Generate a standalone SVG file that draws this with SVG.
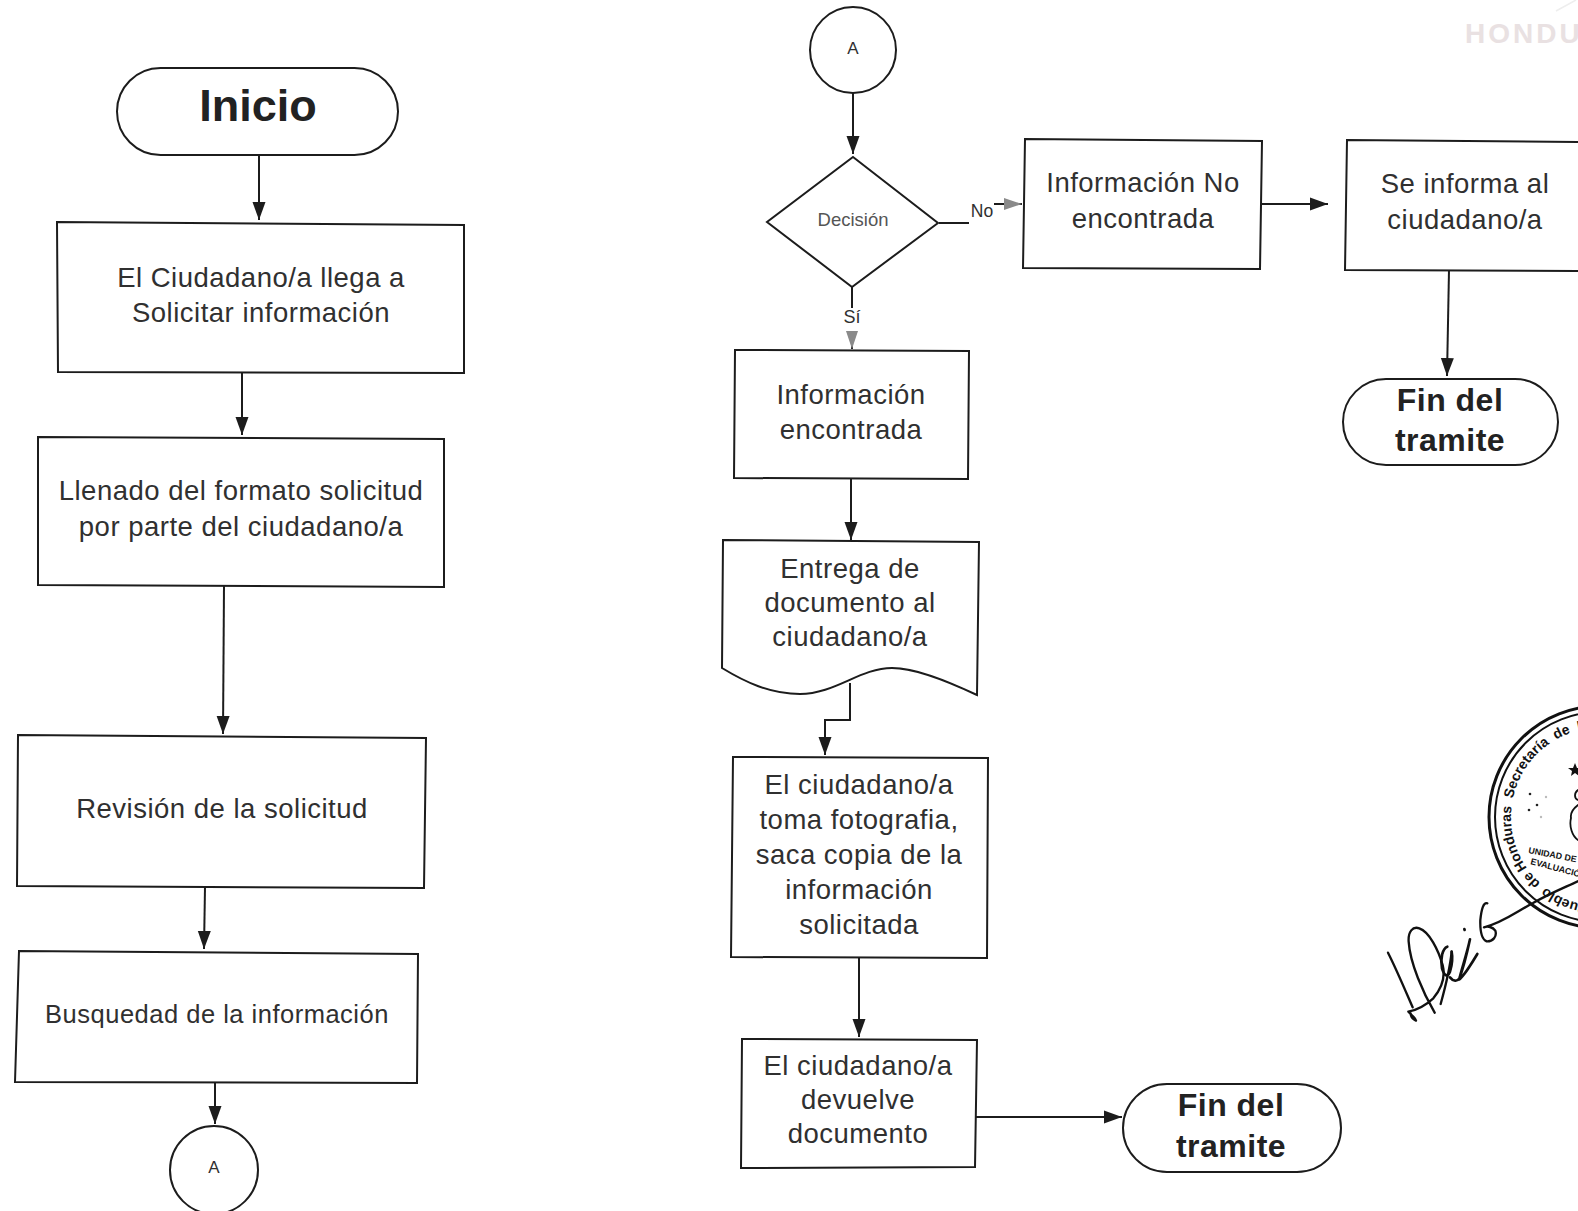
<svg xmlns="http://www.w3.org/2000/svg" width="1578" height="1211" viewBox="0 0 1578 1211">
<style>
.s{fill:#fff;stroke:#1c1c1c;stroke-width:2}
.c{fill:none;stroke:#1c1c1c;stroke-width:2}
text{font-family:"Liberation Sans",Arial,sans-serif;fill:#303030;text-anchor:middle}
.t{font-size:27.5px;letter-spacing:.5px}
.b{font-size:32px;font-weight:bold;fill:#222;letter-spacing:.5px}
.sm{font-size:17px}
.st{font-size:14px;font-weight:bold;fill:#111;text-anchor:start}
.ink{fill:none;stroke:#111;stroke-linecap:round;stroke-linejoin:round}
</style>
<defs>
<marker id="ar" markerUnits="userSpaceOnUse" markerWidth="18" markerHeight="14" refX="18" refY="7" orient="auto"><path d="M0,0.5L18,7L0,13.5z" fill="#1c1c1c"/></marker>
<marker id="ag" markerUnits="userSpaceOnUse" markerWidth="18" markerHeight="14" refX="18" refY="7" orient="auto"><path d="M0,1L18,7L0,13z" fill="#8a8a8a"/></marker>
<path id="ring" d="M1600,906A89,89 0 1 1 1600,728"/>
</defs>
<rect width="1578" height="1211" fill="#fff"/>
<g id="connectors">
<path class="c" d="M259,155V220" marker-end="url(#ar)"/>
<path class="c" d="M242,372V435" marker-end="url(#ar)"/>
<path class="c" d="M224,586L223,734" marker-end="url(#ar)"/>
<path class="c" d="M205,887L204,949" marker-end="url(#ar)"/>
<path class="c" d="M215,1083V1124" marker-end="url(#ar)"/>
<path class="c" d="M853,93V154" marker-end="url(#ar)"/>
<path class="c" d="M939,223H969"/>
<path class="c" d="M994,204H1022" stroke="#666" marker-end="url(#ag)"/>
<path class="c" d="M852,287V308"/>
<path class="c" d="M852,331V349" marker-end="url(#ag)"/>
<path class="c" d="M1261,204H1328" marker-end="url(#ar)"/>
<path class="c" d="M1449,270L1447,376" marker-end="url(#ar)"/>
<path class="c" d="M851,479V540" marker-end="url(#ar)"/>
<path class="c" d="M850,683V720H825V755" marker-end="url(#ar)"/>
<path class="c" d="M859,958V1037" marker-end="url(#ar)"/>
<path class="c" d="M976,1117H1122" marker-end="url(#ar)"/>
</g>
<g id="inicio"><rect class="s" x="117" y="68" width="281" height="87" rx="43.5"/><text x="258" y="121" style="font-size:45px;font-weight:bold;fill:#222">Inicio</text></g>
<g id="llega"><path class="s" d="M57,222L464,225V373L58,372z"/><text class="t" x="261" y="287">El Ciudadano/a llega a</text><text class="t" x="261" y="322">Solicitar información</text></g>
<g id="llenado"><path class="s" d="M38,437L444,439V587L38,585z"/><text class="t" x="241" y="500">Llenado del formato solicitud</text><text class="t" x="241" y="536">por parte del ciudadano/a</text></g>
<g id="revision"><path class="s" d="M18,735L426,738L424,888L17,886z"/><text class="t" x="222" y="818">Revisión de la solicitud</text></g>
<g id="busqueda"><path class="s" d="M19,951L418,954L417,1083L15,1082z"/><text class="t" x="217" y="1023" style="font-size:25.5px">Busquedad de la información</text></g>
<g id="a1"><circle class="s" cx="214" cy="1170" r="44"/><text class="sm" x="214" y="1173">A</text></g>
<g id="a2"><circle class="s" cx="853" cy="50" r="43"/><text class="sm" x="853" y="54">A</text></g>
<g id="decision"><path class="s" d="M853,157L938,223L852,287L767,222z"/><text class="sm" x="853" y="226" style="font-size:18.5px;fill:#555">Decisión</text></g>
<text class="sm" x="982" y="217" style="font-size:17.5px">No</text>
<text class="sm" x="852" y="323" style="font-size:18px">Sí</text>
<g id="no-encontrada"><path class="s" d="M1025,139L1262,141L1260,269L1023,268z"/><text class="t" x="1143" y="192">Información No</text><text class="t" x="1143" y="228">encontrada</text></g>
<g id="informa"><path class="s" d="M1347,140L1590,142V271L1345,270z"/><text class="t" x="1465" y="193">Se informa al</text><text class="t" x="1465" y="229">ciudadano/a</text></g>
<g id="fin1"><rect class="s" x="1343" y="379" width="215" height="86" rx="43"/><text class="b" x="1450" y="411">Fin del</text><text class="b" x="1450" y="451">tramite</text></g>
<g id="encontrada"><path class="s" d="M735,350L969,351L968,479L734,478z"/><text class="t" x="851" y="404">Información</text><text class="t" x="851" y="439">encontrada</text></g>
<g id="entrega"><path class="s" d="M723,540L979,542L977,695C945,680 915,668 892,668C860,668 835,694 800,694C770,694 745,682 722,668z"/><text class="t" x="850" y="578">Entrega de</text><text class="t" x="850" y="612">documento al</text><text class="t" x="850" y="646">ciudadano/a</text></g>
<g id="fotografia"><path class="s" d="M733,757L988,758L987,958L731,957z"/><text class="t" x="859" y="794">El ciudadano/a</text><text class="t" x="859" y="829">toma fotografia,</text><text class="t" x="859" y="864">saca copia de la</text><text class="t" x="859" y="899">información</text><text class="t" x="859" y="934">solicitada</text></g>
<g id="devuelve"><path class="s" d="M742,1039L977,1040L975,1167L741,1168z"/><text class="t" x="858" y="1075">El ciudadano/a</text><text class="t" x="858" y="1109">devuelve</text><text class="t" x="858" y="1143">documento</text></g>
<g id="fin2"><rect class="s" x="1123" y="1084" width="218" height="88" rx="44"/><text class="b" x="1231" y="1116">Fin del</text><text class="b" x="1231" y="1157">tramite</text></g>
<g id="membrete">
<text x="1465" y="43" style="font-size:28px;font-weight:bold;fill:#e9e1e2;text-anchor:start;letter-spacing:3px">HONDU</text>
<path d="M1556,11L1576,0" stroke="#eee" stroke-width="1.5" fill="none"/>
</g>
<g id="sello">
<circle cx="1600" cy="817" r="111" fill="none" stroke="#111" stroke-width="3"/>
<circle cx="1600" cy="817" r="105" fill="none" stroke="#111" stroke-width="2"/>
<text class="st"><textPath href="#ring" startOffset="12">Pueblo</textPath></text>
<text class="st"><textPath href="#ring" startOffset="65">de</textPath></text>
<text class="st"><textPath href="#ring" startOffset="85">Honduras</textPath></text>
<text class="st"><textPath href="#ring" startOffset="158">Secretaría</textPath></text>
<text class="st"><textPath href="#ring" startOffset="233">de</textPath></text>
<text class="st"><textPath href="#ring" startOffset="257">L</textPath></text>
<text x="1528" y="853" transform="rotate(11 1528 853)" style="font-size:8.8px;font-weight:bold;fill:#111;text-anchor:start">UNIDAD DE</text>
<text x="1530" y="864" transform="rotate(15 1530 864)" style="font-size:8.8px;font-weight:bold;fill:#111;text-anchor:start">EVALUACIÓ</text>
<path d="M1575,763l2,5 5,0 -4,3 1,5 -4,-3 -4,3 1,-5 -4,-3 5,0z" fill="#111"/>
<g fill="#222"><circle cx="1530" cy="794" r="1.3"/><circle cx="1537" cy="805" r="1.3"/><circle cx="1529" cy="810" r="1.3"/></g>
<g fill="#bbb"><circle cx="1546" cy="797" r="1.2"/><circle cx="1541" cy="817" r="1.2"/></g>
<path class="ink" stroke-width="1.8" d="M1578,790C1574,793 1574,798 1578,800M1578,805C1574,808 1570,812 1571,818C1569,826 1572,836 1578,840"/>
</g>
<g id="firma" transform="translate(1370 900) scale(.3333)">
<path class="ink" stroke-width="7" d="M54,158C78,205 102,262 128,322"/>
<path class="ink" stroke-width="7" d="M194,338C160,280 120,190 116,125C114,95 128,78 148,85C178,95 205,150 218,195C228,235 215,265 190,295C165,318 140,330 115,335C122,345 135,350 138,362C130,358 122,350 122,340"/>
<path class="ink" stroke-width="8" d="M232,140C218,145 210,175 216,205C222,225 232,235 240,215C246,195 248,170 245,155"/>
<path class="ink" stroke-width="7" d="M245,155C240,205 225,265 212,312"/>
<path class="ink" stroke-width="8" d="M240,232C250,245 262,245 268,235C280,205 292,155 300,118C290,165 272,215 268,238C285,225 305,190 322,162"/>
<path class="ink" stroke-width="8" d="M283,87L284,90"/>
<path class="ink" stroke-width="7" d="M352,10C340,5 334,30 331,60C330,95 335,118 350,124C368,125 382,110 376,92C368,80 352,78 342,82C395,70 440,35 489,9C540,-20 585,-38 625,-57"/>
</g>
</svg>
